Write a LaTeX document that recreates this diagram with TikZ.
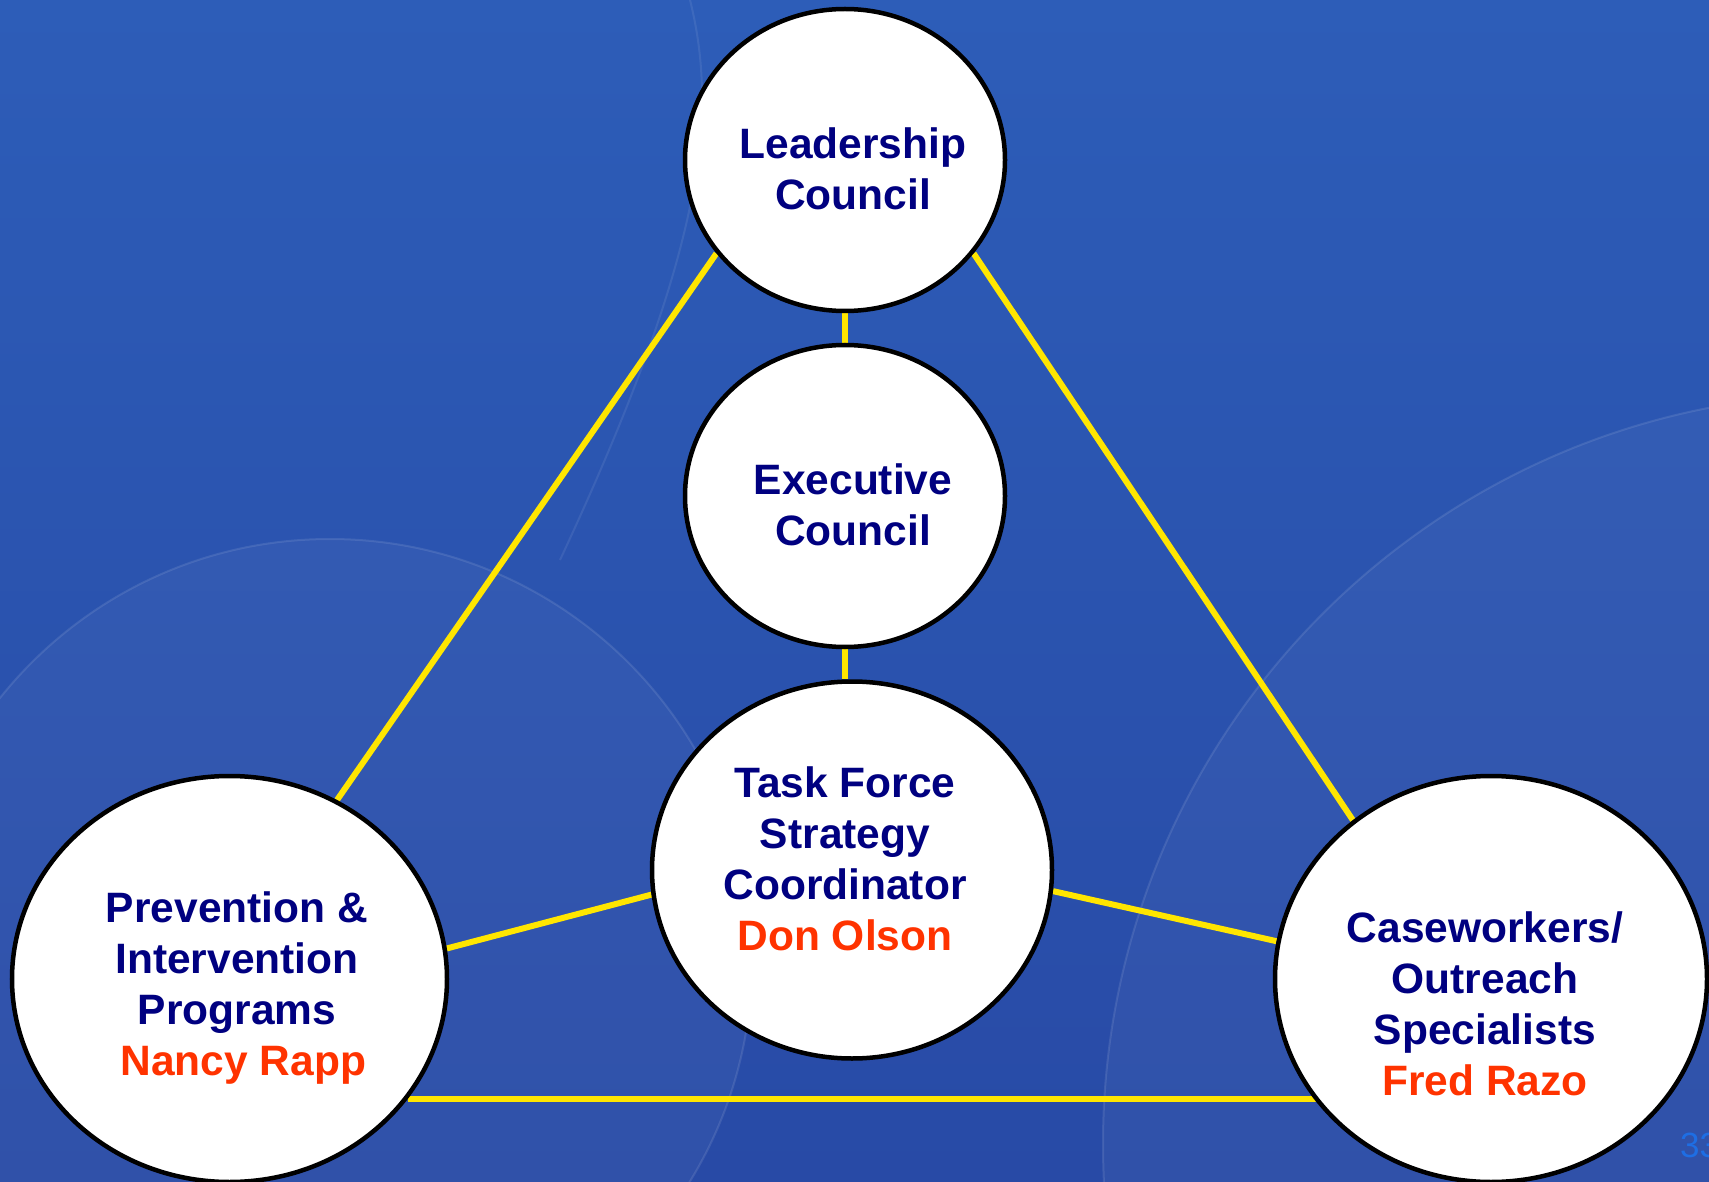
\documentclass[tikz,border=0pt]{standalone}
\usepackage{fontspec}
\setmainfont{Liberation Sans}
\usetikzlibrary{shapes.geometric}
\pgfdeclarelayer{background}
\pgfsetlayers{background,main}
\definecolor{bgA}{RGB}{45,93,184}
\definecolor{bgB}{RGB}{40,74,166}
\definecolor{navy}{RGB}{0,0,128}
\definecolor{namered}{RGB}{255,51,0}
\definecolor{linkyellow}{RGB}{255,230,0}
\definecolor{pagenum}{RGB}{30,110,228}
\tikzset{
  circ/.style={ellipse, draw=black, line width=4.5pt, fill=white, inner sep=0pt},
  lbl/.style={align=center, text=navy, font=\fontsize{42.5}{51}\selectfont\bfseries},
  link/.style={draw=linkyellow, line width=6pt},
}
\newcommand{\who}[1]{\textcolor{namered}{#1}}
\begin{document}
\begin{tikzpicture}[x=1pt,y=-1pt]
\begin{pgfonlayer}{background}
  \shade[left color=bgA, right color=bgB, shading angle=0] (0,0) rectangle (1709,1182);
  \begin{scope}
    \clip (0,0) rectangle (1709,1182);
    \fill[white, opacity=0.04] (330,961) circle (422);
    \draw[white, opacity=0.10, line width=2pt] (330,961) circle (422);
    \fill[white, opacity=0.04] (1853,1144) circle (750);
    \draw[white, opacity=0.10, line width=2pt] (1853,1144) circle (750);
    \draw[white, opacity=0.08, line width=2pt] (690,0) .. controls (720,120) and (700,260) .. (560,560);
  \end{scope}
\end{pgfonlayer}
\useasboundingbox (0,0) rectangle (1709,1182);

\node[circ, minimum width=320pt, minimum height=302pt] (lead) at (845,160) {};
\node[circ, minimum width=320pt, minimum height=302pt] (exec) at (845,496) {};
\node[circ, minimum width=400pt, minimum height=377pt] (task) at (852,870) {};
\node[circ, minimum width=435pt, minimum height=406pt] (prev) at (229.5,979) {};
\node[circ, minimum width=432pt, minimum height=406pt] (case) at (1491,979) {};

\begin{pgfonlayer}{background}
  \path[link] (lead.216) -- (prev.59);
  \path[link] (lead.324) -- (case.131);
  \path[link] (lead.south) -- (exec.north);
  \path[link] (exec.south) -- (exec.south |- task.north);
  \path[link] (task.187) -- (prev.8);
  \path[link] (task.354) -- (case.170);
  \path[link] (prev.326) -- (prev.326 -| case.center);
\end{pgfonlayer}

\node[lbl] (leadtxt) at (853,169) {Leadership\\Council};
\node[lbl] (exectxt) at (853,505) {Executive\\Council};
\node[lbl] (tasktxt) at (845,859) {Task Force\\Strategy\\Coordinator\\\who{Don Olson}};
\node[lbl] (prevtxt) at (237,988) {Prevention \&\\Intervention\\Programs\\\hspace*{0.3em}\who{Nancy Rapp}};
\node[lbl] (casetxt) at (1485,1004) {Caseworkers/\\Outreach\\Specialists\\\who{Fred Razo}};

\node[anchor=west, text=pagenum, font=\fontsize{35}{40}\selectfont, inner sep=0pt] (pg) at (1680,1145) {33};
\end{tikzpicture}
\end{document}
